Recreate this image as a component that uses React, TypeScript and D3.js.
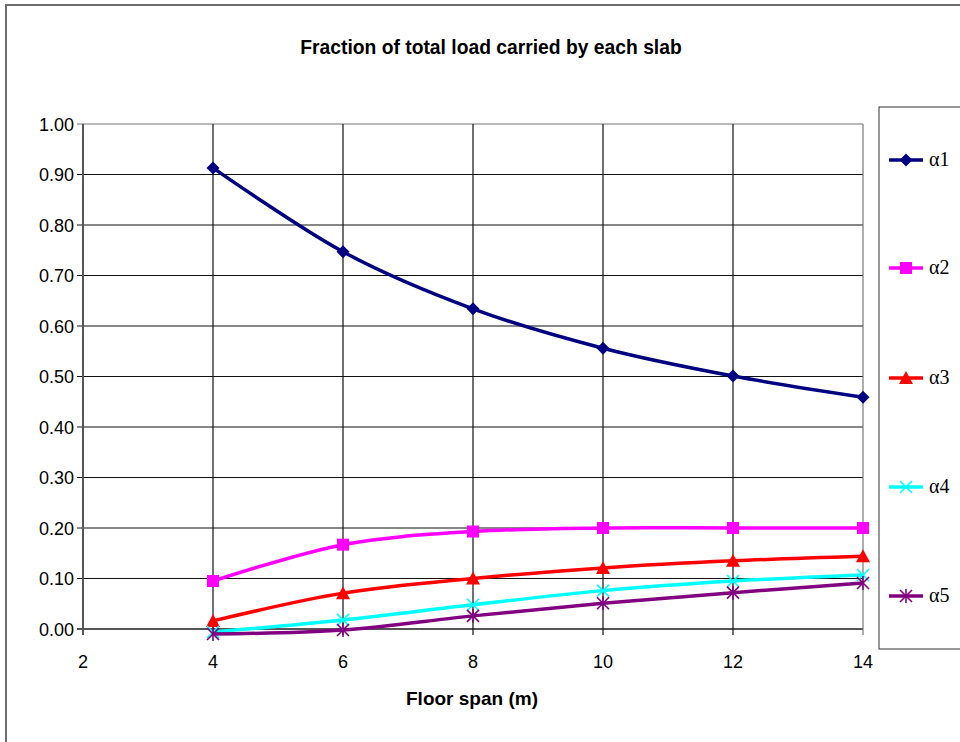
import React from 'react';
import * as d3 from 'd3';

const spans = [4, 6, 8, 10, 12, 14];
const alpha1 = [0.913, 0.747, 0.634, 0.556, 0.501, 0.459];
const alpha2 = [0.095, 0.167, 0.193, 0.2, 0.2, 0.2];
const alpha3 = [0.016, 0.071, 0.1, 0.121, 0.135, 0.144];
const alpha4 = [-0.006, 0.018, 0.048, 0.076, 0.095, 0.107];
const alpha5 = [-0.01, -0.002, 0.026, 0.051, 0.072, 0.091];

const xTicks = [2, 4, 6, 8, 10, 12, 14];
const yTicks = [0, 0.1, 0.2, 0.3, 0.4, 0.5, 0.6, 0.7, 0.8, 0.9, 1.0];

const seriesNames = ['α1', 'α2', 'α3', 'α4', 'α5'];
const seriesValues = [alpha1, alpha2, alpha3, alpha4, alpha5];
const seriesColors = ['#000080', '#FF00FF', '#FF0000', '#00FFFF', '#800080'];
const seriesMarkers = ['diamond', 'square', 'triangle', 'cross', 'star'];

const W = 960;
const H = 742;
const plot = { left: 83, right: 863, top: 124, bottom: 629 };

const x = d3.scaleLinear().domain([2, 14]).range([plot.left, plot.right]);
const y = d3.scaleLinear().domain([0, 1]).range([plot.bottom, plot.top]);

const Marker: React.FC<{ kind: string; cx: number; cy: number; color: string }> = ({ kind, cx, cy, color }) => {
  if (kind === 'diamond') {
    const r = 6.5;
    return <polygon points={`${cx},${cy - r} ${cx + r},${cy} ${cx},${cy + r} ${cx - r},${cy}`} fill={color} />;
  }
  if (kind === 'square') {
    return <rect x={cx - 6} y={cy - 6} width={12} height={12} fill={color} />;
  }
  if (kind === 'triangle') {
    return <polygon points={`${cx},${cy - 7} ${cx + 7},${cy + 6} ${cx - 7},${cy + 6}`} fill={color} />;
  }
  const r = 6;
  return (
    <g stroke={color} strokeWidth={1.6}>
      <line x1={cx - r} y1={cy - r} x2={cx + r} y2={cy + r} />
      <line x1={cx - r} y1={cy + r} x2={cx + r} y2={cy - r} />
      {kind === 'star' && <line x1={cx} y1={cy - r - 1} x2={cx} y2={cy + r + 1} />}
    </g>
  );
};

export default function App() {
  const line = d3
    .line<number>()
    .x((_, i) => x(spans[i]))
    .y(d => y(d))
    .curve(d3.curveCatmullRom.alpha(0));

  const legendY = [160, 268, 378, 487, 596];

  return (
    <div style={{ position: 'fixed', left: 0, top: 0 }}>
      <svg width={W} height={H} style={{ display: 'block', background: '#fff' }}>
        {/* outer chart border */}
        <rect x={6} y={5} width={W} height={H} fill="none" stroke="#6e6e6e" strokeWidth={2} />

        <text x={491} y={54} textAnchor="middle" fontFamily="Liberation Sans, Arial" fontWeight="bold" fontSize={19.3}>
          Fraction of total load carried by each slab
        </text>

        {/* horizontal gridlines */}
        {yTicks.map(t => (
          <line key={'h' + t} x1={plot.left - 6} x2={plot.right} y1={y(t)} y2={y(t)}
            stroke={t === 0 ? '#555' : t === 1 ? '#777' : '#111'} strokeWidth={t === 0 ? 2 : 1.2} />
        ))}
        {/* vertical gridlines */}
        {xTicks.map(t => (
          <line key={'v' + t} x1={x(t)} x2={x(t)} y1={plot.top} y2={plot.bottom + 6}
            stroke={t === 2 ? '#555' : t === 14 ? '#777' : '#111'} strokeWidth={t === 2 ? 2 : 1.2} />
        ))}

        {/* y tick labels */}
        {yTicks.map(t => (
          <text key={'yl' + t} x={plot.left - 9} y={y(t) + 6.5} textAnchor="end"
            fontFamily="Liberation Sans, Arial" fontSize={18}>
            {t.toFixed(2)}
          </text>
        ))}
        {/* x tick labels */}
        {xTicks.map(t => (
          <text key={'xl' + t} x={x(t)} y={668} textAnchor="middle"
            fontFamily="Liberation Sans, Arial" fontSize={18}>
            {t}
          </text>
        ))}

        <text x={472} y={705} textAnchor="middle" fontFamily="Liberation Sans, Arial" fontWeight="bold" fontSize={19}>
          Floor span (m)
        </text>

        {/* series */}
        {seriesValues.map((vals, si) => (
          <g key={seriesNames[si]}>
            <path d={line(vals) || ''} fill="none" stroke={seriesColors[si]} strokeWidth={3.5} strokeLinejoin="round" />
            {vals.map((v, i) => (
              <Marker key={i} kind={seriesMarkers[si]} cx={x(spans[i])} cy={y(v)} color={seriesColors[si]} />
            ))}
          </g>
        ))}

        {/* legend */}
        <rect x={879} y={107} width={120} height={542} fill="#fff" stroke="#333" strokeWidth={1} />
        {seriesNames.map((n, i) => (
          <g key={'lg' + n}>
            <line x1={889} x2={923} y1={legendY[i]} y2={legendY[i]} stroke={seriesColors[i]} strokeWidth={3.5} />
            <Marker kind={seriesMarkers[i]} cx={906} cy={legendY[i]} color={seriesColors[i]} />
            <text x={929} y={legendY[i] + 6} fontFamily="Liberation Serif, Times New Roman" fontSize={20}>
              {n}
            </text>
          </g>
        ))}
      </svg>
    </div>
  );
}
